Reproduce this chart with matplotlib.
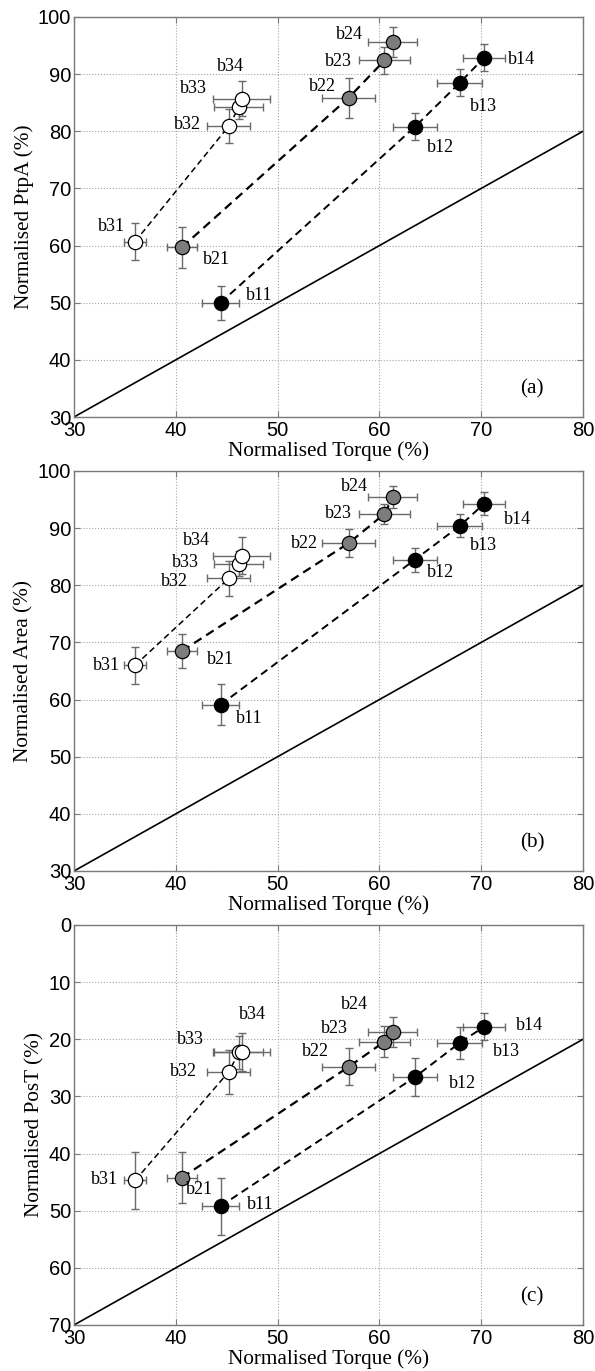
import numpy as np
import matplotlib
matplotlib.use("Agg")
import matplotlib.pyplot as plt

# normalised torque (x) shared by all three panels, groups b1x, b2x, b3x
names = [["b11", "b12", "b13", "b14"],
         ["b21", "b22", "b23", "b24"],
         ["b31", "b32", "b33", "b34"]]
torque = [[44.4, 63.5, 67.9, 70.3],
          [40.6, 57.0, 60.5, 61.3],
          [36.0, 45.2, 46.2, 46.5]]
torque_err = [[1.8, 2.2, 2.2, 2.05],
              [1.5, 2.6, 2.5, 2.4],
              [1.05, 2.1, 2.4, 2.8]]

ptpa = [[50.0, 80.8, 88.5, 92.9],
        [59.7, 85.9, 92.4, 95.6],
        [60.7, 80.9, 84.2, 85.7]]
ptpa_err = [[3.0, 2.4, 2.4, 2.4],
            [3.6, 3.5, 2.3, 2.6],
            [3.3, 3.0, 2.0, 3.1]]

area = [[59.1, 84.5, 90.4, 94.3],
        [68.5, 87.4, 92.5, 95.4],
        [66.0, 81.2, 83.8, 85.2]]
area_err = [[3.6, 2.1, 2.0, 2.0],
            [2.9, 2.5, 1.7, 1.9],
            [3.2, 3.0, 2.2, 3.3]]

post = [[49.2, 26.6, 20.6, 17.8],
        [44.2, 24.8, 20.4, 18.7],
        [44.7, 25.7, 22.3, 22.2]]
post_err = [[5.0, 3.4, 2.8, 2.4],
            [4.5, 3.2, 2.7, 2.6],
            [5.0, 3.8, 2.9, 3.3]]

# label offsets (pixels) per panel
lab_a = [[(39, 7), (25, -21), (24, -24), (37, -2)],
         [(35, -12), (-26, 11), (-46, -1), (-43, 8)],
         [(-24, 15), (-41, 2), (-45, 19), (-12, 32)]]
lab_b = [[(29, -14), (25, -13), (24, -20), (33, -16)],
         [(39, -8), (-44, 0), (-46, 0), (-38, 11)],
         [(-29, 0), (-54, -3), (-53, 1), (-46, 15)]]
lab_c = [[(40, 2), (47, -7), (47, -9), (45, 1)],
         [(18, -12), (-33, 15), (-50, 13), (-38, 27)],
         [(-31, 1), (-45, 0), (-48, 13), (10, 37)]]

face = ["black", "#7c7c7c", "white"]
dash_lw = [1.4, 1.6, 1.1]

serif = "Liberation Serif"
sans = "Liberation Sans"

panels = [
    (ptpa, ptpa_err, lab_a, "Normalised PtpA (%)", (30, 100), "(a)"),
    (area, area_err, lab_b, "Normalised Area (%)", (30, 100), "(b)"),
    (post, post_err, lab_c, "Normalised PosT (%)", (70, 0), "(c)"),
]
bottoms = [1 - 417 / 1371, 1 - 871 / 1371, 1 - 1325 / 1371]

fig = plt.figure(figsize=(5.95, 13.71), dpi=100)

for (yv, ye, labs, ylab, ylim, tag), b in zip(panels, bottoms):
    ax = fig.add_axes([74 / 595, b, 509 / 595, 400 / 1371])
    xlim = np.array([30, 80])
    if ylim[0] > ylim[1]:
        ax.plot(xlim, 100 - xlim, color="black", lw=1.2, zorder=2)
    else:
        ax.plot(xlim, xlim, color="black", lw=1.2, zorder=2)

    for g in range(3):
        ax.plot(torque[g], yv[g], "--", color="black", lw=dash_lw[g],
                dashes=(4, 2.5), zorder=3)
        ax.errorbar(torque[g], yv[g], xerr=torque_err[g], yerr=ye[g],
                    fmt="none", ecolor="#6a6a6a", elinewidth=1.0,
                    capsize=3, capthick=1.0, zorder=4)
        ax.plot(torque[g], yv[g], "o", ms=10.3, mfc=face[g], mec="black",
                mew=0.9, zorder=5)
        for i in range(4):
            ax.annotate(names[g][i], (torque[g][i], yv[g][i]),
                        xytext=labs[g][i], textcoords="offset pixels",
                        ha="center", va="center", fontsize=13,
                        family=serif, zorder=6)

    ax.set_xlim(*xlim)
    ax.set_ylim(*ylim)
    ax.set_xticks(np.arange(30, 81, 10))
    if ylim[0] > ylim[1]:
        ax.set_yticks(np.arange(0, 71, 10))
    else:
        ax.set_yticks(np.arange(30, 101, 10))
    ax.grid(True, linestyle=":", color="#a5a5a5", lw=0.8)
    ax.set_axisbelow(True)
    for s in ax.spines.values():
        s.set_color("#7a7a7a")
        s.set_linewidth(1.0)
    ax.tick_params(direction="in", top=True, right=True, length=4,
                   color="#7a7a7a", labelsize=14.5, pad=2)
    ax.tick_params(axis="x", pad=3)
    for t in ax.get_xticklabels() + ax.get_yticklabels():
        t.set_family(sans)
    ax.set_xlabel("Normalised Torque (%)", family=serif, fontsize=15.3,
                  labelpad=0.5)
    ax.set_ylabel(ylab, family=serif, fontsize=15.3, labelpad=3)
    ax.text(0.90, 0.07, tag, transform=ax.transAxes, family=serif,
            fontsize=15.3, ha="center", va="center")

fig.savefig("out.png", dpi=100)
